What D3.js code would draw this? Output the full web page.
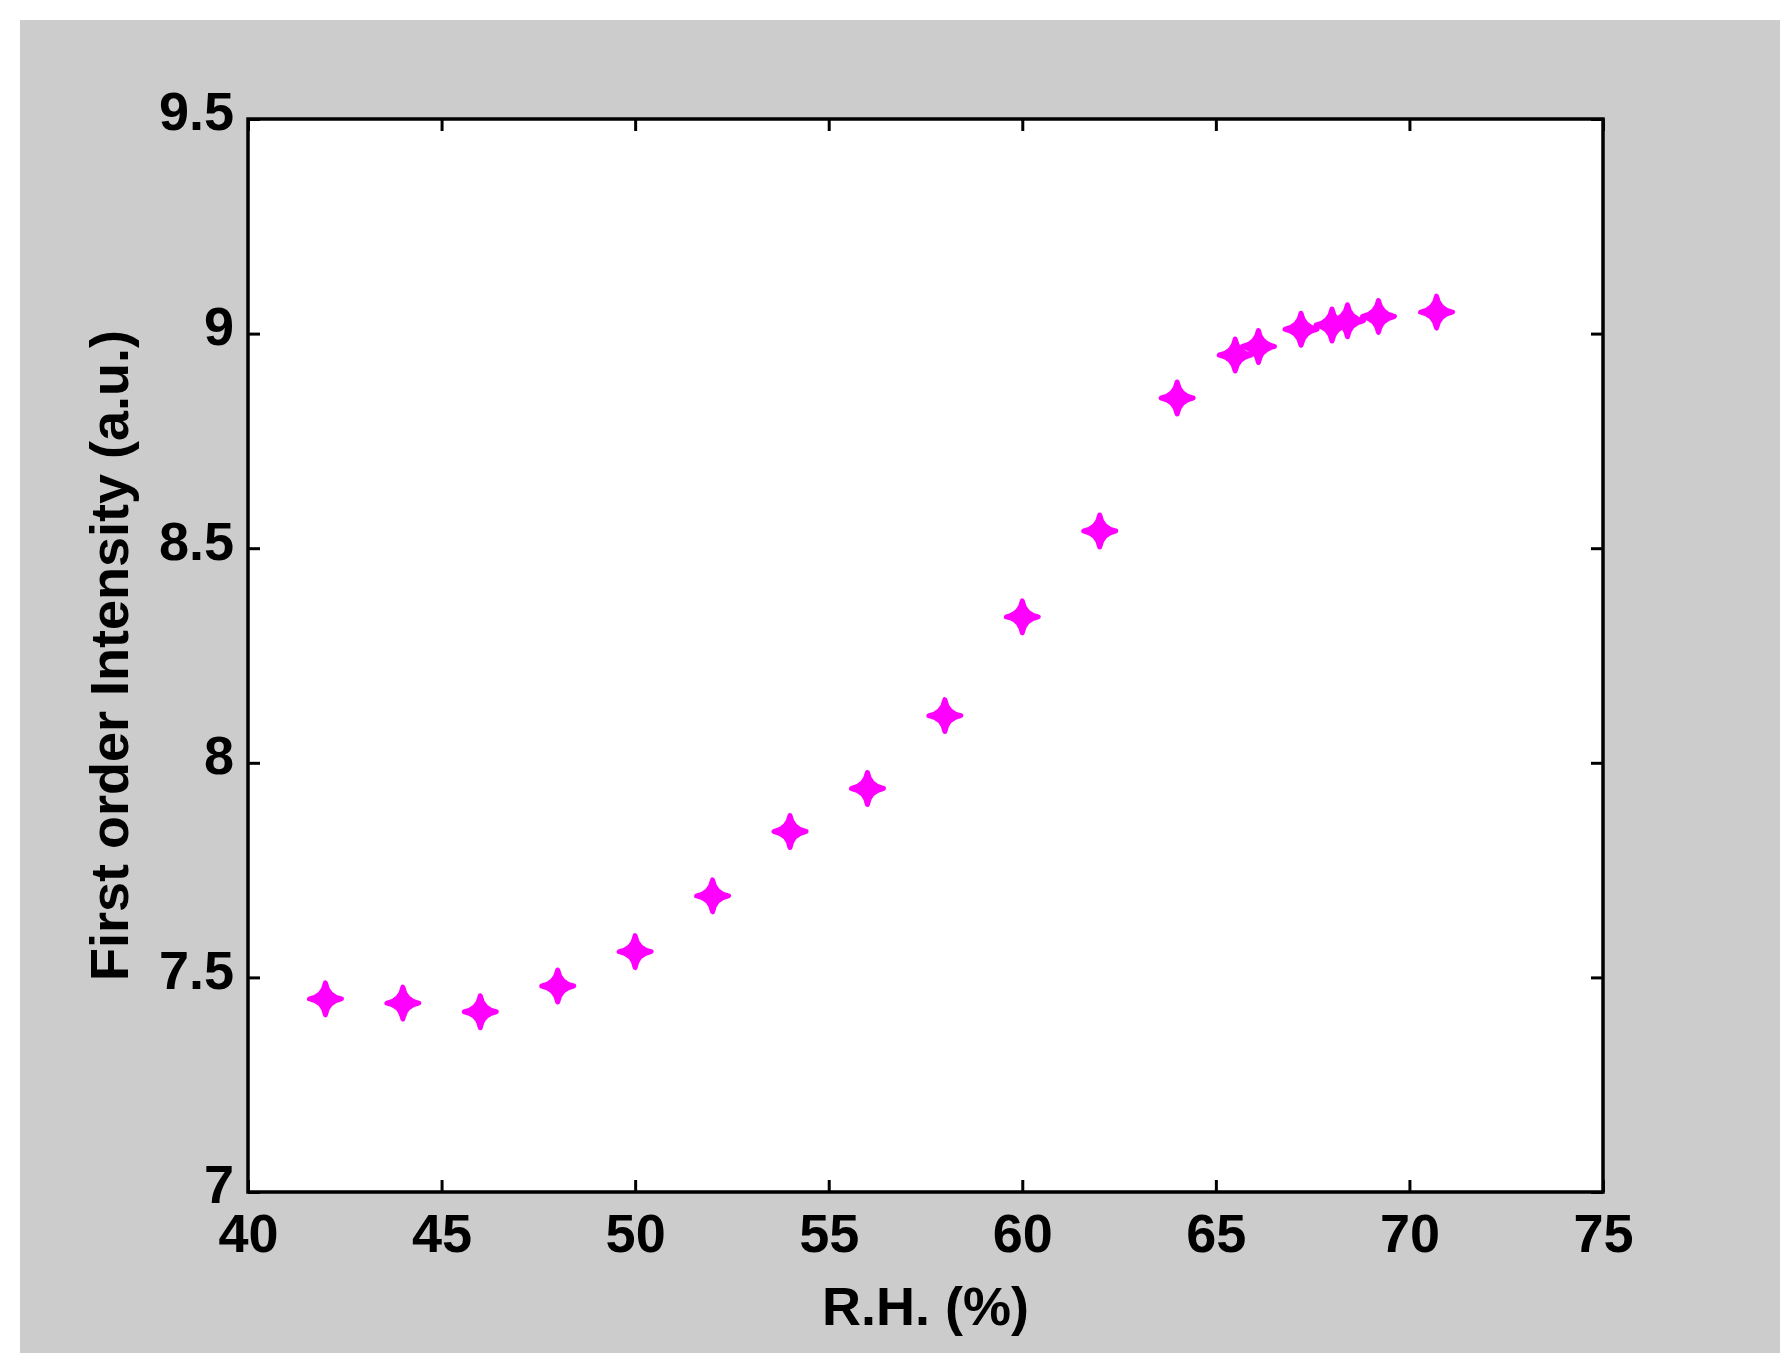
<!DOCTYPE html><html><head><script src="https://cdn.jsdelivr.net/npm/d3@7"></script>
<style>body{margin:0;background:#fff}</style></head><body><svg id="c" width="1780" height="1353"></svg>
<script>
const rh=[42,44,46,48,50,52,54,56,58,60,62,64,65.5,66.1,67.2,68,68.4,69.2,70.7];
const intensity=[7.45,7.44,7.42,7.48,7.56,7.69,7.84,7.94,8.11,8.34,8.54,8.85,8.95,8.97,9.01,9.02,9.03,9.04,9.05];
const xTicks=[40,45,50,55,60,65,70,75];
const yTicks=[7,7.5,8,8.5,9,9.5];
const svg=d3.select("#c");
svg.append("rect").attr("x",20).attr("y",20).attr("width",1760).attr("height",1333).attr("fill","#cccccc");
const L=248,R=1603,T=119,B=1192;
const x=d3.scaleLinear().domain([40,75]).range([L,R]);
const y=d3.scaleLinear().domain([7,9.5]).range([B,T]);
svg.append("rect").attr("x",L).attr("y",T).attr("width",R-L).attr("height",B-T).attr("fill","#fff");
const font="Liberation Sans, Arial, sans-serif";
function style(g){g.select(".domain").remove();g.selectAll("line").attr("stroke","#000").attr("stroke-width",3);
 g.selectAll("text").attr("font-family",font).attr("font-weight","bold").attr("font-size",54).attr("fill","#000");}
svg.append("g").attr("transform",`translate(0,${B})`).call(d3.axisBottom(x).tickValues(xTicks).tickSize(-12).tickPadding(22).tickFormat(d3.format("d"))).call(style);
svg.append("g").attr("transform",`translate(0,${T})`).call(d3.axisTop(x).tickValues(xTicks).tickSize(-12).tickFormat("")).call(style);
svg.append("g").attr("transform",`translate(${L},0)`).call(d3.axisLeft(y).tickValues(yTicks).tickSize(-12).tickPadding(14).tickFormat(d=>String(d))).call(style)
 .selectAll("text").attr("dy","0.2em");
svg.append("g").attr("transform",`translate(${R},0)`).call(d3.axisRight(y).tickValues(yTicks).tickSize(-12).tickFormat("")).call(style);
svg.append("rect").attr("x",L).attr("y",T).attr("width",R-L).attr("height",B-T).attr("fill","none").attr("stroke","#000").attr("stroke-width",3.5);
const s=16,w=6;
const path=`M0,${-s} Q${w*0.4},${-w*0.4} ${s},0 Q${w*0.4},${w*0.4} 0,${s} Q${-w*0.4},${w*0.4} ${-s},0 Q${-w*0.4},${-w*0.4} 0,${-s}Z`;
svg.append("g").selectAll("path").data(rh).join("path").attr("d",path)
 .attr("transform",(d,i)=>`translate(${x(d)},${y(intensity[i])})`).attr("fill","#ff00ff").attr("stroke","#ff00ff").attr("stroke-width",5).attr("stroke-linejoin","round");
svg.append("text").attr("x",(L+R)/2).attr("y",1325).attr("text-anchor","middle").attr("font-family",font).attr("font-weight","bold").attr("font-size",54).text("R.H. (%)");
svg.append("text").attr("transform",`translate(128,${(T+B)/2}) rotate(-90)`).attr("text-anchor","middle").attr("font-family",font).attr("font-weight","bold").attr("font-size",54).text("First order Intensity (a.u.)");
</script></body></html>
